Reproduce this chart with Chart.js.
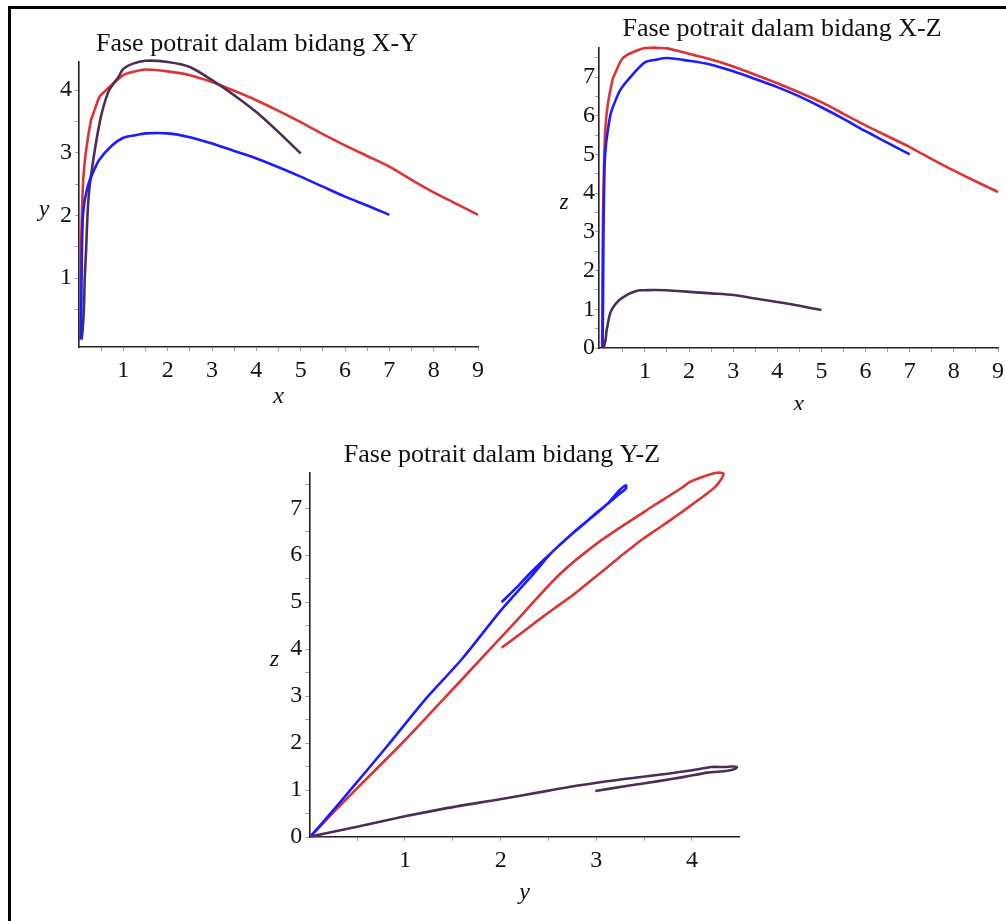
<!DOCTYPE html>
<html>
<head>
<meta charset="utf-8">
<script src="https://cdn.jsdelivr.net/npm/chart.js@4.4.1/dist/chart.umd.min.js"></script>
<style>
  html, body { margin: 0; padding: 0; background: #fff; }
  body { width: 1006px; height: 921px; position: relative; overflow: hidden; }
  #frame { position: absolute; left: 8px; top: 6px; right: 0; bottom: 0; border-left: 3px solid #000; border-top: 3px solid #000; }
  canvas { position: absolute; }
  #cXY { left: 20px; top: 10px; }
  #cXZ { left: 560px; top: 10px; }
  #cYZ { left: 252px; top: 425px; }
</style>
</head>
<body>
<div id="frame"></div>
<canvas id="cXY" width="474" height="400"></canvas>
<canvas id="cXZ" width="444" height="400"></canvas>
<canvas id="cYZ" width="500" height="490"></canvas>
<script>
// lintasan merah, awal (9, 2, 4)
const merahX = [9.0, 8.5, 8.0, 7.5, 7.0, 6.5, 6.0, 5.5, 5.0, 4.5, 4.0, 3.5, 3.0, 2.5, 2.0, 1.5, 1.2, 1.0, 0.76, 0.58, 0.46, 0.32, 0.27, 0.16, 0.10, 0.07, 0.05, 0.04, 0.035, 0.032, 0.03];
const merahY = [2.01, 2.19, 2.37, 2.57, 2.78, 2.95, 3.12, 3.30, 3.49, 3.67, 3.84, 3.99, 4.13, 4.24, 4.30, 4.33, 4.29, 4.24, 4.10, 3.98, 3.89, 3.62, 3.52, 3.04, 2.62, 2.14, 1.57, 1.0, 0.53, 0.25, 0.02];
const merahZ = [4.03, 4.30, 4.58, 4.88, 5.19, 5.47, 5.75, 6.05, 6.35, 6.60, 6.84, 7.06, 7.27, 7.45, 7.60, 7.74, 7.76, 7.75, 7.66, 7.56, 7.43, 7.08, 6.95, 6.30, 5.60, 4.55, 3.30, 2.06, 1.10, 0.52, 0.02];

// lintasan biru, awal (7, 2, 5)
const biruX = [7.0, 6.5, 6.0, 5.5, 5.0, 4.5, 4.0, 3.5, 3.0, 2.5, 2.0, 1.5, 1.26, 1.0, 0.75, 0.45, 0.30, 0.22, 0.16, 0.12, 0.09, 0.07, 0.06, 0.055, 0.05, 0.045, 0.04];
const biruY = [2.01, 2.16, 2.30, 2.46, 2.62, 2.77, 2.91, 3.03, 3.15, 3.25, 3.31, 3.31, 3.28, 3.24, 3.12, 2.88, 2.66, 2.52, 2.35, 2.20, 2.00, 1.60, 1.20, 0.80, 0.45, 0.20, 0.02];
const biruZ = [5.00, 5.30, 5.60, 5.92, 6.22, 6.50, 6.74, 6.95, 7.15, 7.32, 7.42, 7.49, 7.45, 7.38, 7.10, 6.68, 6.30, 6.03, 5.62, 5.28, 4.82, 3.80, 2.90, 1.90, 1.05, 0.45, 0.03];

// lintasan ungu, awal (5, 3, 1)
const unguX = [5.0, 4.5, 4.0, 3.5, 3.0, 2.5, 2.0, 1.5, 1.2, 1.0, 0.88, 0.68, 0.53, 0.42, 0.31, 0.23, 0.19, 0.16, 0.13, 0.11, 0.08, 0.06];
const unguY = [2.99, 3.33, 3.65, 3.92, 4.16, 4.37, 4.45, 4.47, 4.42, 4.34, 4.20, 4.00, 3.68, 3.31, 2.83, 2.40, 1.98, 1.45, 1.00, 0.50, 0.15, 0.02];
const unguZ = [0.98, 1.09, 1.19, 1.28, 1.37, 1.41, 1.45, 1.49, 1.50, 1.49, 1.49, 1.42, 1.33, 1.24, 1.10, 0.95, 0.80, 0.62, 0.44, 0.22, 0.07, 0.01];

// label sumbu
const labelXY_x = [1, 2, 3, 4, 5, 6, 7, 8, 9];
const labelXY_y = [1, 2, 3, 4];
const labelXZ_x = [1, 2, 3, 4, 5, 6, 7, 8, 9];
const labelXZ_z = [0, 1, 2, 3, 4, 5, 6, 7];
const labelYZ_y = [1, 2, 3, 4];
const labelYZ_z = [0, 1, 2, 3, 4, 5, 6, 7];

const SERIF = '"Liberation Serif", "Times New Roman", serif';
const WARNA = { merah: '#dc3434', biru: '#1c1cff', ungu: '#4e2c58' };

function pasangan(a, b) {
    return a.map((v, i) => ({ x: v, y: b[i] }));
}

function setengah(dari, sampai) {
    const out = [];
    for (let v = dari; v <= sampai + 1e-9; v += 0.5) out.push(v);
    return out;
}

// nama sumbu ditulis mendatar seperti di Maple
const namaSumbu = {
    id: 'namaSumbu',
    afterDraw(chart, args, opts) {
        const { ctx, chartArea: a } = chart;
        ctx.save();
        ctx.font = 'italic 24px ' + SERIF;
        ctx.fillStyle = '#111';
        ctx.textAlign = 'center';
        ctx.textBaseline = 'middle';
        ctx.fillText(opts.x, (a.left + a.right) / 2, a.bottom + opts.jarakX);
        ctx.fillText(opts.y, a.left - 35, (a.top + a.bottom) / 2 + 5);
        ctx.restore();
    }
};

function skala(min, max, tik, label, cfg) {
    return {
        type: 'linear',
        min: min,
        max: max,
        afterBuildTicks: s => { s.ticks = tik.map(v => ({ value: v })); },
        ticks: {
            autoSkip: false,
            maxRotation: 0,
            padding: cfg.pad,
            color: '#111',
            font: { family: SERIF, size: 24 },
            callback: v => label.includes(v) ? String(v) : ''
        },
        grid: { drawOnChartArea: false, tickLength: 4, tickColor: '#a0a0a0' },
        border: { color: '#222', width: 1.6 },
        afterFit: cfg.fit
    };
}

function buatGrafik(id, judul, data, sk, judulPad, nama) {
    new Chart(document.getElementById(id), {
        type: 'scatter',
        data: {
            datasets: [
                { data: data.biru, borderColor: WARNA.biru },
                { data: data.ungu, borderColor: WARNA.ungu },
                { data: data.merah, borderColor: WARNA.merah }
            ].map(d => Object.assign(d, {
                showLine: true, pointRadius: 0, borderWidth: 2.6, tension: 0.25, fill: false, clip: 5
            }))
        },
        options: {
            responsive: false,
            animation: false,
            devicePixelRatio: 1,
            layout: { padding: 0 },
            plugins: {
                legend: { display: false },
                tooltip: { enabled: false },
                title: {
                    display: true,
                    text: judul,
                    color: '#111',
                    font: { family: SERIF, size: 26, weight: 'normal' },
                    padding: judulPad
                },
                namaSumbu: nama
            },
            scales: sk
        },
        plugins: [namaSumbu]
    });
}

// X-Y
buatGrafik('cXY', 'Fase potrait dalam bidang X-Y',
    { merah: pasangan(merahX, merahY), biru: pasangan(biruX, biruY), ungu: pasangan(unguX, unguY) },
    {
        x: skala(0, 9, setengah(0.5, 9), labelXY_x, { pad: 5, fit: s => { s.height = 63; s.paddingLeft = 0; s.paddingRight = 16; } }),
        y: skala(-0.1, 4.45, setengah(0.5, 4), labelXY_y, { pad: 3, fit: s => { s.width = 59; s.paddingTop = 0; s.paddingBottom = 0; } })
    },
    { top: 18.4, bottom: 2.4 },
    { x: 'x', y: 'y', jarakX: 50 });

// X-Z
buatGrafik('cXZ', 'Fase potrait dalam bidang X-Z',
    { merah: pasangan(merahX, merahZ), biru: pasangan(biruX, biruZ), ungu: pasangan(unguX, unguZ) },
    {
        x: skala(-0.04, 9, setengah(0.5, 9), labelXZ_x, { pad: 5, fit: s => { s.height = 62; s.paddingLeft = 0; s.paddingRight = 6; } }),
        y: skala(0, 7.75, setengah(0, 7.5), labelXZ_z, { pad: 0, fit: s => { s.width = 39; s.paddingTop = 0; s.paddingBottom = 0; } })
    },
    { top: 3.4, bottom: 3.4 },
    { x: 'x', y: 'z', jarakX: 57 });

// Y-Z
buatGrafik('cYZ', 'Fase potrait dalam bidang Y-Z',
    { merah: pasangan(merahY, merahZ), biru: pasangan(biruY, biruZ), ungu: pasangan(unguY, unguZ) },
    {
        x: skala(0, 4.5, setengah(0.5, 4), labelYZ_y, { pad: 5, fit: s => { s.height = 78; s.paddingLeft = 0; s.paddingRight = 12.2; } }),
        y: skala(0, 7.75, setengah(0, 7.5), labelYZ_z, { pad: 3, fit: s => { s.width = 57.3; s.paddingTop = 0; s.paddingBottom = 0; } })
    },
    { top: 14.4, bottom: 2.4 },
    { x: 'y', y: 'z', jarakX: 56 });
</script>
</body>
</html>
